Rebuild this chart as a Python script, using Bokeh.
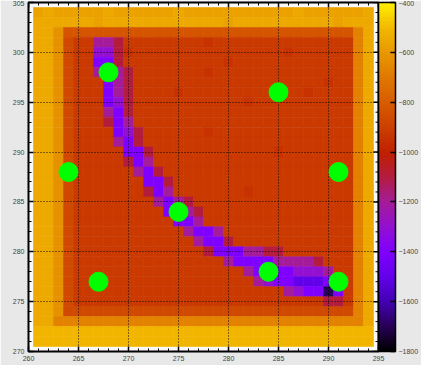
import numpy as np
from bokeh.plotting import figure
from bokeh.models import (LinearColorMapper, ColorBar, FixedTicker,
                          Range1d, ColumnDataSource)
from bokeh.embed import file_html
from bokeh.resources import INLINE

# ---------------- data ----------------
# grid cell centres: columns x = 261..294, rows y = 304 (first string) .. 271 (last)
grid_x0 = 261
grid_y_top = 304
# value of each letter
level_values = {"Y": -510, "L": -550, "l": -575, "O": -620, "o": -670,
                "D": -830, "d": -870, "r": -920, "R": -945, "C": -1100,
                "M": -1200, "P": -1300, "V": -1400, "B": -1500, "K": -1700}
# groups: 261-264 | 265-269 | 270-274 | 275-279 | 280-284 | 285-289 | 290-292 | 293-294
heat_rows = [
    "lLll lllLl lllll Lllll lllll llLll lll lL",  # 304
    "LLLL LLlLL LLLLL LLLLL lLLLL LLLLL LlL LL",  # 303
    "LLOD DDDDD DDDDD DDDDD DDDDD DDDDD DDD oL",  # 302
    "LLOd rrMMC rrrrr rrrRr rrrrr rrrrr rrr oL",  # 301
    "LLOd rrPPC Rrrrr rrrrr rrrrr rRrrr rrr oL",  # 300
    "LLOd rrVVC rrrrr rrrrr Rrrrr rrrrr rrr oL",  # 299
    "LLOd rrMVM Crrrr rrrRr rrrrr rrrrr rrr oL",  # 298
    "LLOd rrrVM Crrrr rrrrr rrrrr rrrrr Rrr oL",  # 297
    "LLOd rrrVM Crrrr Rrrrr rrrrr rrrRr rrr oL",  # 296
    "LLOd rrrVP Crrrr rrrrr rrRrr rrrrr rrr oL",  # 295
    "LLOd rrrMV Crrrr rrrrr rrrrr rrrrr rrr oL",  # 294
    "LLOd rrrCV Mrrrr rrrrr rrrrr rrrrr rrr oL",  # 293
    "LLOd rrrrV PCrrr rrrRr rrrrr rrrrr rrr oL",  # 292
    "LLOd rrrrM VCrrr rrrrr rrrrr rrrrr rrr oL",  # 291
    "LLOd rrrrr VVCrr rrrrr rrrrr Rrrrr rrr oL",  # 290
    "LLOd rrrrr CVMrr rrrrr rrrrr rrrrr rrr oL",  # 289
    "LLOd rrrrr rMVCr rrrrr rrrrr rrrrr rrr oL",  # 288
    "LLOd rrrrr rrVVC rrrrr rrrrr rrrrr rrr oL",  # 287
    "LLOd rrrrr rrCVM rrrrr rrRrr rrrrr rrr oL",  # 286
    "LLOd rrrrr rrrMV MCrrr rrrrr rrrrr rrr oL",  # 285
    "LLOd rrrrr rrrrV VMCrr rrrrr rrrrr rrr oL",  # 284
    "LLOd rrrrr rrrrr VVMrr rrrrr rrrrr rrr oL",  # 283
    "LLOd rrrrr rrrrr rMVVM rrrrr rrrrr rrr oL",  # 282
    "LLOd rrrrr rrrrr rrMVV Crrrr rrrrr rrr oL",  # 281
    "LLOd rrrrr rrrrr rrrCV VVMMC Crrrr rrr oL",  # 280
    "LLOd rrrrr rrrrr rrrrr MVVVV MMMMC rrr oL",  # 279
    "LLOd rrrrr rrrrr rrrrr rrMVV VVPPP Mrr oL",  # 278
    "LLOd rrrrr rrrrr rrrrr rrrMP VVBBB VVr oL",  # 277
    "LLOd rrrrr rrrrr rrrrr rrrrr rMPVV KVr oL",  # 276
    "LLOd rrrrr rrrrr rrrrr rrrrr rrrrr CCr oL",  # 275
    "LLOd ddddd ddddd ddddd ddddd ddddd ddd oL",  # 274
    "LLoo ooooo ooooo ooooo ooooo ooooo ooo oL",  # 273
    "YYYY YYYYY YYYYY YYYYY YYYYY YYYYY YYY YY",  # 272
    "YYYY YYYYY YYYYY YYYYY YYYYY YYYYY YYY YY",  # 271
]
points_x = [268, 285, 264, 291, 275, 267, 284, 291]
points_y = [298, 296, 288, 288, 284, 277, 278, 277]

x_range = (260, 295)
y_range = (270, 305)
x_ticks = [260, 265, 270, 275, 280, 285, 290, 295]
y_ticks = [270, 275, 280, 285, 290, 295, 300, 305]
cbar_ticks = [-1800, -1600, -1400, -1200, -1000, -800, -600, -400]
cbar_low, cbar_high = -1800, -400

# palette anchors (value, colour)
pal_vals = [-1800, -1700, -1600, -1500, -1400, -1300, -1200, -1100, -1000,
            -900, -800, -700, -600, -500, -400]
pal_cols = ["#000000", "#280058", "#4400b4", "#6400ec", "#8000ff", "#9410d0",
            "#a41c98", "#b41c40", "#c02000", "#cc4000", "#d85c00", "#e07800",
            "#e89800", "#f2b800", "#fff000"]

# ---------------- build ----------------
def hex2rgb(h):
    return [int(h[i:i + 2], 16) for i in (1, 3, 5)]

anc = np.array([hex2rgb(c) for c in pal_cols], dtype=float)
grid_v = np.linspace(cbar_low, cbar_high, 256)
palette = []
for v in grid_v:
    rgb = [np.interp(v, pal_vals, anc[:, k]) for k in range(3)]
    palette.append("#%02x%02x%02x" % tuple(int(round(c)) for c in rgb))

xs, ys, vs = [], [], []
for ri, row in enumerate(heat_rows):
    cells = row.replace(" ", "")
    assert len(cells) == 34, (ri, len(cells))
    for ci, ch in enumerate(cells):
        xs.append(grid_x0 + ci)
        ys.append(grid_y_top - ri)
        vs.append(level_values[ch])
src = ColumnDataSource(dict(x=xs, y=ys, v=vs))

mapper = LinearColorMapper(palette=palette, low=cbar_low, high=cbar_high)

p = figure(width=421, height=365, x_range=Range1d(*x_range), y_range=Range1d(*y_range),
           output_backend="svg", toolbar_location=None,
           min_border_left=28, min_border_top=2, min_border_bottom=14, min_border_right=0,
           background_fill_color="#f8f8f8", border_fill_color="#e8e8e8",
           outline_line_color="black", outline_line_width=2)

heat = p.rect(x="x", y="y", width=1, height=1, source=src,
              fill_color={"field": "v", "transform": mapper},
              line_color={"field": "v", "transform": mapper}, line_width=0.6)
heat.level = "image"

p.scatter(points_x, points_y, size=19, marker="circle", fill_color="#00ff00",
          line_color="#00ff00")

# mirrored inward ticks on the top and right frame edges (glyphs are clipped to the frame)
x_minor = [v for v in range(x_range[0], x_range[1] + 1) if v not in x_ticks]
y_minor = [v for v in range(y_range[0], y_range[1] + 1) if v not in y_ticks]
p.scatter(x_ticks, [y_range[1]] * len(x_ticks), marker="dash", angle=np.pi / 2,
          size=10, line_color="black", line_width=1.5)
p.scatter(x_minor, [y_range[1]] * len(x_minor), marker="dash", angle=np.pi / 2,
          size=6, line_color="black", line_width=1)
p.scatter([x_range[1]] * len(y_ticks), y_ticks, marker="dash",
          size=10, line_color="black", line_width=1.5)
p.scatter([x_range[1]] * len(y_minor), y_minor, marker="dash",
          size=6, line_color="black", line_width=1)

font = "Liberation Sans"

def style_axis(ax):
    ax.axis_line_color = None
    ax.major_tick_in = 5
    ax.major_tick_out = 0
    ax.minor_tick_in = 3
    ax.minor_tick_out = 0
    ax.major_tick_line_color = "black"
    ax.major_tick_line_width = 1.5
    ax.minor_tick_line_color = "black"
    ax.major_label_text_font = font
    ax.major_label_text_color = "#444444"
    ax.major_label_text_font_size = "7px"
    ax.major_label_standoff = 4

xt = FixedTicker(ticks=x_ticks, minor_ticks=list(range(x_range[0], x_range[1] + 1)))
yt = FixedTicker(ticks=y_ticks, minor_ticks=list(range(y_range[0], y_range[1] + 1)))
p.xaxis.ticker = xt
p.yaxis.ticker = yt
style_axis(p.xaxis[0])
style_axis(p.yaxis[0])

for g in (p.xgrid[0], p.ygrid[0]):
    g.grid_line_color = "black"
    g.grid_line_dash = "1 2"
    g.grid_line_width = 1
    g.grid_line_alpha = 0.9
p.xgrid.ticker = xt
p.ygrid.ticker = yt

cb = ColorBar(color_mapper=mapper, ticker=FixedTicker(ticks=cbar_ticks),
              width=17, padding=0, margin=8, label_standoff=3,
              major_label_text_font_size="7px", major_label_text_font=font,
              major_label_text_color="#444444",
              major_tick_in=5, major_tick_out=0, major_tick_line_color="black",
              major_tick_line_width=1.5,
              bar_line_color="black", bar_line_width=1.5,
              background_fill_alpha=0, border_line_color=None)
p.add_layout(cb, "right")

open("out.html", "w").write(file_html(p, INLINE))
